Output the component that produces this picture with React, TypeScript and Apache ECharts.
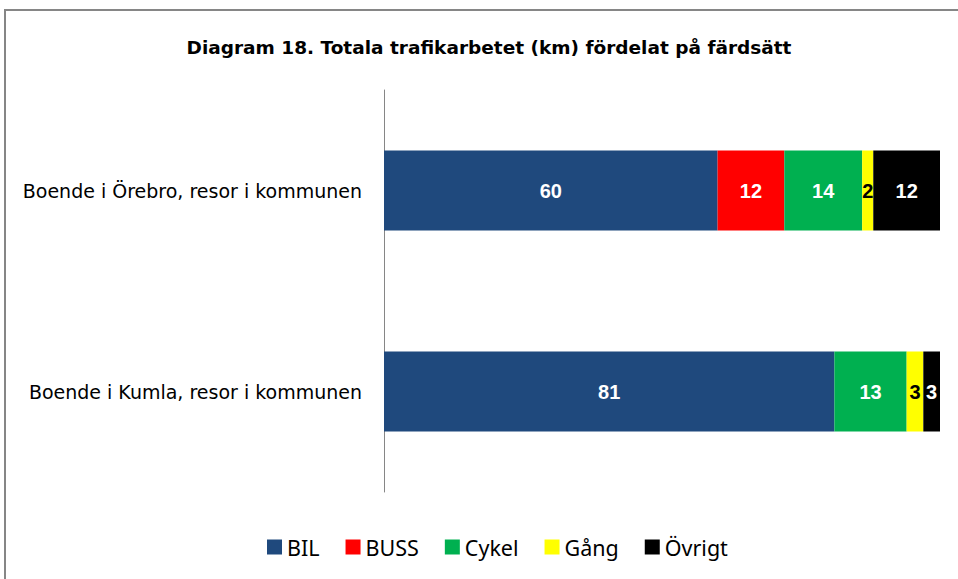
import React, { useEffect, useRef } from "react";
import * as echarts from "echarts";

const categories = ["Boende i Örebro, resor i kommunen", "Boende i Kumla, resor i kommunen"];
const seriesNames = ["BIL", "BUSS", "Cykel", "Gång", "Övrigt"];
const bilValues = [60, 81];
const bussValues = [12, 0];
const cykelValues = [14, 13];
const gangValues = [2, 3];
const ovrigtValues = [12, 3];
const colors = ["#1F497D", "#FF0000", "#00B050", "#FFFF00", "#000000"];
const labelColors = ["#FFFFFF", "#FFFFFF", "#FFFFFF", "#000000", "#FFFFFF"];

export default function App() {
  const ref = useRef<HTMLDivElement>(null);
  useEffect(() => {
    if (!ref.current) return;
    const chart = echarts.init(ref.current, null, { renderer: "svg" });
    const allValues = [bilValues, bussValues, cykelValues, gangValues, ovrigtValues];
    chart.setOption({
      animation: false,
      backgroundColor: "#FFFFFF",
      title: {
        text: "Diagram 18. Totala trafikarbetet (km) fördelat på färdsätt",
        left: 484,
        textAlign: "center",
        top: 33,
        textStyle: {
          fontFamily: "'DejaVu Sans', sans-serif",
          fontWeight: "bold",
          fontSize: 18.5,
          color: "#000000",
        },
      },
      legend: {
        top: 531,
        left: 262,
        itemWidth: 15,
        itemHeight: 15,
        itemGap: 26,
        icon: "rect",
        textStyle: {
          fontFamily: "'Noto Sans', 'Open Sans', sans-serif",
          fontSize: 21.5,
          color: "#000000",
        },
        data: seriesNames,
      },
      grid: { left: 384, right: 18, top: 90, bottom: 87, containLabel: false },
      xAxis: {
        type: "value",
        min: 0,
        max: 100,
        show: false,
      },
      yAxis: {
        type: "category",
        inverse: true,
        data: categories,
        axisLine: { show: true, lineStyle: { color: "#868686", width: 1 } },
        axisTick: { show: false },
        axisLabel: {
          margin: 22,
          fontFamily: "'DejaVu Sans', sans-serif",
          fontSize: 19,
          color: "#000000",
        },
      },
      graphic: [
        {
          type: "rect",
          shape: { x: 5, y: 10, width: 1000, height: 700 },
          style: { fill: "none", stroke: "#868686", lineWidth: 2 },
          silent: true,
          z: 100,
        },
      ],
      series: seriesNames.map((name, i) => ({
        name,
        type: "bar",
        stack: "total",
        barWidth: 80,
        itemStyle: { color: colors[i] },
        label: {
          show: true,
          position: "inside",
          color: labelColors[i],
          fontFamily: "'Liberation Sans', Arial, sans-serif",
          fontWeight: "bold",
          fontSize: 20,
          formatter: (p: any) => (p.value ? String(p.value) : ""),
        },
        data: allValues[i],
      })),
    });
    return () => chart.dispose();
  }, []);
  return (
    <div
      ref={ref}
      style={{ position: "fixed", left: 0, top: 0, width: 958, height: 579 }}
    />
  );
}
